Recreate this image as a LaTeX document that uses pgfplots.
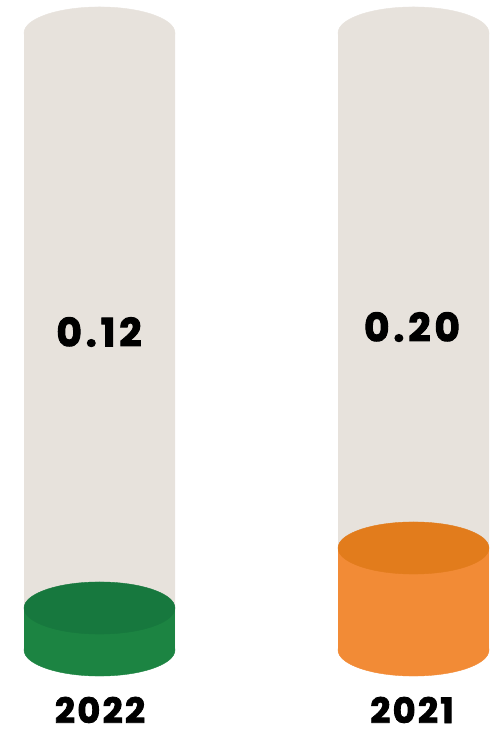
\documentclass[border=0pt]{standalone}
\usepackage{pgfplots}
\pgfplotsset{compat=1.18}
\usepackage{fontspec}
\setmainfont{Poppins}[BoldFeatures={FakeBold=2.5}]

\definecolor{tube}{RGB}{231,226,220}
\definecolor{gside}{RGB}{28,132,66}
\definecolor{gtop}{RGB}{23,120,62}
\definecolor{oside}{RGB}{242,139,54}
\definecolor{otop}{RGB}{226,124,28}

\pgfplotsset{
  cap/.style={only marks, mark=*, mark size=75.5pt, color=#1,
      mark options={fill=#1, draw=#1, yscale=0.345}},
  bignum/.style 2 args={only marks, mark=none, nodes near coords, point meta=explicit symbolic,
      every node near coord/.style={anchor=center, text=black, inner sep=0pt,
        font=\fontsize{#1}{#1}\selectfont\bfseries\addfontfeatures{LetterSpace=#2}}},
}

\begin{document}
\begin{tikzpicture}
\begin{axis}[
    scale only axis,
    width=495pt, height=730pt,
    xmin=0, xmax=495,
    ymin=-80, ymax=650,
    axis line style={draw=none},
    ticks=none,
    clip=false,
    ybar, bar width=151, bar shift=0pt,
]
% empty tubes
\addplot[fill=tube, draw=none] coordinates {(99.5,617) (413.5,617)};
\addplot[cap=tube] coordinates {(99.5,617) (413.5,617)};

% 2022
\addplot[cap=gside] coordinates {(99.5,0)};
\addplot[fill=gside, draw=none] coordinates {(99.5,42)};
\addplot[cap=gtop] coordinates {(99.5,42)};

% 2021
\addplot[cap=oside] coordinates {(413.5,0)};
\addplot[fill=oside, draw=none] coordinates {(413.5,102)};
\addplot[cap=otop] coordinates {(413.5,102)};

% values and years
\addplot[bignum={39}{10}] table[meta=label] {
x y label
99 318 0.12
412 323 0.20
};
\addplot[bignum={35}{7}] table[meta=label] {
x y label
100 -60 2022
412 -60 2021
};
\end{axis}
\pgfresetboundingbox
\path (current axis.south west) rectangle (current axis.north east);
\end{tikzpicture}
\end{document}
